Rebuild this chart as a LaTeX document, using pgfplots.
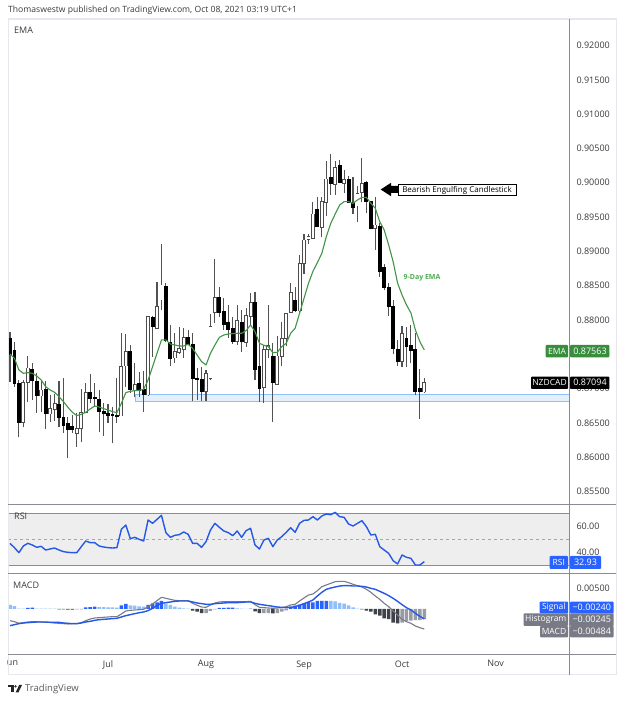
\documentclass[border=0pt]{standalone}
\usepackage{fontspec}
\setmainfont{Open Sans}
\usepackage{pgfplots}
\usepackage{pgfplotstable}
\pgfplotsset{compat=1.18}

\definecolor{tvblue}{HTML}{2962FF}
\definecolor{lblue}{HTML}{90BFF9}
\definecolor{zone}{HTML}{E3F0FC}
\definecolor{tvgrey}{HTML}{787B86}
\definecolor{dgrey}{HTML}{3F424B}
\definecolor{lgrey}{HTML}{9A9CA5}
\definecolor{emagreen}{HTML}{4CAF50}
\definecolor{taggreen}{HTML}{388E3C}
\definecolor{txt}{HTML}{3A3A3A}
\definecolor{frame}{HTML}{E6E8EE}
\definecolor{sep}{HTML}{8A8C94}

% daily candles, i = 0 is 1 Jun 2021
\pgfplotstableread{
i o h l c
0 0.87733 0.87820 0.87101 0.87490
1 0.87553 0.87684 0.87028 0.87067
2 0.87077 0.87125 0.86290 0.86503
3 0.86503 0.87125 0.86435 0.87087
4 0.87091 0.87480 0.86810 0.87300
5 0.87286 0.87378 0.86834 0.87116
6 0.87101 0.87223 0.86649 0.86892
7 0.86892 0.87125 0.86664 0.86980
8 0.86989 0.87116 0.86411 0.86630
9 0.86630 0.86907 0.86518 0.86712
10 0.86698 0.86921 0.86533 0.86785
11 0.86766 0.87116 0.86445 0.86567
12 0.86576 0.87150 0.86348 0.86460
13 0.86494 0.86591 0.85984 0.86406
14 0.86445 0.86615 0.86348 0.86397
15 0.86343 0.86649 0.86154 0.86421
16 0.86416 0.86999 0.86217 0.86649
17 0.86649 0.87087 0.86640 0.86941
18 0.86941 0.87213 0.86785 0.86858
19 0.86873 0.87077 0.86737 0.86853
20 0.86844 0.86980 0.86363 0.86664
21 0.86674 0.86785 0.86314 0.86630
22 0.86640 0.86776 0.86503 0.86610
23 0.86625 0.86737 0.86202 0.86601
24 0.86610 0.87150 0.86503 0.86591
25 0.86601 0.87806 0.86601 0.87320
26 0.87330 0.87796 0.87028 0.87538
27 0.87538 0.87636 0.86931 0.86989
28 0.86980 0.87368 0.86882 0.87057
29 0.87077 0.87247 0.86873 0.86970
30 0.86989 0.87262 0.86654 0.86907
31 0.86907 0.88058 0.86897 0.88049
32 0.88039 0.88058 0.87466 0.87903
33 0.87879 0.88559 0.87879 0.88194
34 0.88292 0.89108 0.88146 0.88510
35 0.88486 0.88535 0.87684 0.87694
36 0.87670 0.87927 0.87330 0.87436
37 0.87446 0.87806 0.87368 0.87538
38 0.87524 0.87903 0.87504 0.87587
39 0.87572 0.87879 0.87441 0.87743
40 0.87743 0.87854 0.87636 0.87645
41 0.87645 0.87806 0.86824 0.87150
42 0.87150 0.87295 0.86834 0.87135
43 0.87140 0.87320 0.86819 0.86955
44 0.86955 0.87271 0.86824 0.87223
45 0.87150 0.88088 0.87125 0.87903
46 0.88107 0.88884 0.87951 0.88326
47 0.88326 0.88486 0.88039 0.88107
48 0.88122 0.88316 0.87854 0.87937
49 0.87961 0.88219 0.87733 0.87864
50 0.87874 0.88039 0.87650 0.87684
51 0.87684 0.88219 0.87636 0.87990
52 0.87966 0.88146 0.87538 0.87675
53 0.87675 0.88170 0.87611 0.88068
54 0.88049 0.88399 0.87927 0.88253
55 0.88253 0.88413 0.87125 0.87271
56 0.87330 0.87903 0.86800 0.87004
57 0.87019 0.87636 0.86785 0.87572
58 0.87572 0.88219 0.87441 0.87626
59 0.87475 0.87660 0.86518 0.87091
60 0.87057 0.87767 0.87053 0.87475
61 0.87466 0.87976 0.87330 0.87733
62 0.87733 0.88107 0.87621 0.88097
63 0.88112 0.88544 0.88097 0.88403
64 0.88292 0.88486 0.88122 0.88131
65 0.88131 0.88948 0.88122 0.88826
66 0.88826 0.89249 0.88671 0.89166
67 0.89176 0.89254 0.89108 0.89215
68 0.89191 0.89725 0.89181 0.89545
69 0.89613 0.89798 0.89351 0.89361
70 0.89351 0.89788 0.89205 0.89725
71 0.89715 0.90323 0.89521 0.90055
72 0.90080 0.90415 0.89822 0.89992
73 0.89978 0.90323 0.89822 0.90221
74 0.90255 0.90332 0.89992 0.90002
75 0.89992 0.90187 0.89847 0.90051
76 0.90055 0.90104 0.89711 0.89715
77 0.89715 0.90090 0.89545 0.89638
78 0.89662 0.89953 0.89434 0.89847
79 0.89856 0.90357 0.89715 0.89992
80 0.90007 0.90031 0.89555 0.89725
81 0.89725 0.89725 0.89322 0.89327
82 0.89332 0.89798 0.89021 0.89385
83 0.89370 0.89409 0.88632 0.88705
84 0.88768 0.88816 0.88437 0.88462
85 0.88485 0.88539 0.88058 0.88185
86 0.88204 0.88292 0.87504 0.87587
87 0.87577 0.87708 0.87329 0.87392
88 0.87392 0.87913 0.87311 0.87806
89 0.87733 0.87902 0.87311 0.87611
90 0.87636 0.87927 0.87369 0.87552
91 0.87573 0.87806 0.86907 0.86955
92 0.87004 0.87281 0.86557 0.86955
93 0.86947 0.87150 0.86932 0.87094
}\candles

% indicators by the same index
\pgfplotstableread{
i ema rsi sig macd
0 0.87504 46.92 -0.00403 -0.00282
1 0.87441 43.61 -0.00378 -0.00306
2 0.87271 39.80 -0.00354 -0.00346
3 0.87223 44.89 -0.00338 -0.00330
4 0.87232 46.92 -0.00330 -0.00314
5 0.87223 45.65 -0.00322 -0.00306
6 0.87184 43.87 -0.00314 -0.00306
7 0.87125 44.63 -0.00314 -0.00314
8 0.87028 41.83 -0.00314 -0.00322
9 0.86980 42.60 -0.00322 -0.00322
10 0.86946 43.36 -0.00322 -0.00338
11 0.86882 41.83 -0.00322 -0.00346
12 0.86810 40.56 -0.00338 -0.00354
13 0.86727 40.05 -0.00346 -0.00362
14 0.86654 39.80 -0.00354 -0.00354
15 0.86606 39.80 -0.00354 -0.00354
16 0.86625 44.38 -0.00338 -0.00330
17 0.86654 48.70 -0.00314 -0.00282
18 0.86703 47.43 -0.00298 -0.00242
19 0.86746 47.43 -0.00274 -0.00217
20 0.86732 44.89 -0.00258 -0.00209
21 0.86708 44.12 -0.00250 -0.00201
22 0.86688 43.61 -0.00242 -0.00193
23 0.86664 43.36 -0.00233 -0.00185
24 0.86649 43.61 -0.00225 -0.00185
25 0.86785 57.61 -0.00193 -0.00121
26 0.86941 60.92 -0.00161 -0.00048
27 0.86960 50.48 -0.00137 -0.00032
28 0.86970 51.50 -0.00113 -0.00024
29 0.86975 49.97 -0.00089 -0.00016
30 0.86989 48.70 -0.00072 -0.00008
31 0.87125 64.73 -0.00040 0.00056
32 0.87320 62.19 0.00016 0.00121
33 0.87514 65.24 0.00089 0.00201
34 0.87709 68.30 0.00137 0.00282
35 0.87709 55.06 0.00153 0.00258
36 0.87650 51.50 0.00169 0.00233
37 0.87636 53.03 0.00185 0.00209
38 0.87621 53.54 0.00193 0.00201
39 0.87621 55.57 0.00193 0.00201
40 0.87645 53.79 0.00193 0.00201
41 0.87587 46.92 0.00169 0.00137
42 0.87490 46.92 0.00145 0.00089
43 0.87393 43.87 0.00129 0.00048
44 0.87344 48.19 0.00113 0.00040
45 0.87514 57.10 0.00113 0.00097
46 0.87636 62.19 0.00129 0.00145
47 0.87747 59.13 0.00137 0.00169
48 0.87781 56.34 0.00145 0.00177
49 0.87796 55.06 0.00153 0.00177
50 0.87801 52.77 0.00153 0.00177
51 0.87806 56.34 0.00153 0.00177
52 0.87806 51.50 0.00161 0.00177
53 0.87845 56.59 0.00169 0.00177
54 0.87927 58.37 0.00169 0.00185
55 0.87830 45.65 0.00137 0.00105
56 0.87660 42.60 0.00113 0.00040
57 0.87631 49.47 0.00097 0.00032
58 0.87611 50.74 0.00081 0.00024
59 0.87524 44.38 0.00064 0.00016
60 0.87529 49.47 0.00048 0.00024
61 0.87611 52.01 0.00040 0.00032
62 0.87660 55.32 0.00032 0.00056
63 0.87806 58.88 0.00040 0.00097
64 0.87879 55.32 0.00056 0.00113
65 0.88097 62.19 0.00089 0.00193
66 0.88316 64.48 0.00129 0.00266
67 0.88535 64.73 0.00169 0.00338
68 0.88709 67.28 0.00217 0.00362
69 0.88836 64.73 0.00314 0.00443
70 0.88972 67.79 0.00403 0.00539
71 0.89215 69.31 0.00475 0.00580
72 0.89409 68.80 0.00507 0.00620
73 0.89545 70.58 0.00531 0.00660
74 0.89677 67.28 0.00555 0.00668
75 0.89725 66.77 0.00564 0.00668
76 0.89725 61.68 0.00564 0.00636
77 0.89701 60.15 0.00555 0.00596
78 0.89749 62.19 0.00555 0.00564
79 0.89788 64.21 0.00547 0.00531
80 0.89788 59.64 0.00531 0.00475
81 0.89701 53.28 0.00499 0.00403
82 0.89628 53.79 0.00475 0.00314
83 0.89434 44.38 0.00427 0.00233
84 0.89312 41.83 0.00378 0.00137
85 0.89093 39.29 0.00322 0.00056
86 0.88850 33.69 0.00258 -0.00048
87 0.88539 31.15 0.00185 -0.00145
88 0.88364 38.02 0.00105 -0.00250
89 0.88219 36.23 0.00032 -0.00306
90 0.88102 35.47 -0.00024 -0.00346
91 0.87854 30.38 -0.00105 -0.00411
92 0.87684 30.38 -0.00177 -0.00451
93 0.87563 32.93 -0.00240 -0.00484
}\indic

\pgfplotsset{
  pane/.style={
    scale only axis, width=561pt,
    xmin=-0.449, xmax=125.48,
    axis line style={draw=none},
    major tick length=0pt,
    xtick=\empty,
    yticklabel pos=right,
    yticklabel style={font=\fontsize{9}{10}\selectfont, text=txt, anchor=west, xshift=4pt},
    scaled y ticks=false,
    /pgf/number format/assume math mode=true,
    /pgf/number format/fixed,
    /pgf/number format/fixed zerofill,
  },
  candle/.style 2 args={mark=none, draw=#1, line width=#2, line cap=butt},
}

\begin{document}
\begin{tikzpicture}[x=1pt,y=1pt]
\path[use as bounding box, fill=white] (0,0) rectangle (624,702);

% price pane
\begin{axis}[pane, at={(8pt,197pt)}, anchor=south west, height=485pt,
    ymin=0.85303, ymax=0.92373,
    ytick={0.855,0.86,0.865,0.87,0.875,0.88,0.885,0.89,0.895,0.90,0.905,0.91,0.915,0.92},
    /pgf/number format/precision=5]
  % support zone
  \addplot[fill=zone, draw=lblue, line width=0.8pt] coordinates {(28.06,0.86812) (125.48,0.86812) (125.48,0.86917) (28.06,0.86917)} --cycle;
  % wicks
  \addplot[candle={black!68}{1.1pt}, quiver={u=0, v={\thisrow{h}-\thisrow{l}}}] table[x=i, y=l] {\candles};
  % up bodies: outline, then white inside
  \addplot[candle={black!70}{3.9pt}, quiver={u=0, v={max(\thisrow{c}-\thisrow{o}+0.00008,0)}}] table[x=i, y expr=\thisrow{o}-0.00004] {\candles};
  \addplot[candle={white}{2.1pt}, quiver={u=0, v={max(\thisrow{c}-\thisrow{o}-0.00012,0)}}] table[x=i, y expr=\thisrow{o}+0.00006] {\candles};
  % down bodies
  \addplot[candle={black}{3.9pt}, quiver={u=0, v={max(\thisrow{o}-\thisrow{c}+0.00006,0)}}] table[x=i, y expr=\thisrow{c}-0.00003] {\candles};
  % 9-day EMA
  \addplot[emagreen!85!black, line width=1.1pt, line join=round] table[x=i, y=ema] {\indic};
\end{axis}

% RSI pane
\begin{axis}[pane, at={(8pt,128.5pt)}, anchor=south west, height=68.5pt,
    ymin=23.89, ymax=76.18,
    ytick={40,60},
    /pgf/number format/precision=2]
  \addplot[fill=black!6.5, draw=none] coordinates {(-0.449,30) (125.48,30) (125.48,70) (-0.449,70)} --cycle;
  \addplot[black!45, line width=0.9pt] coordinates {(-0.449,70) (125.48,70)};
  \addplot[black!45, line width=0.9pt] coordinates {(-0.449,30) (125.48,30)};
  \addplot[black!35, line width=0.6pt, dash pattern=on 3pt off 3pt] coordinates {(-0.449,50) (125.48,50)};
  \addplot[tvblue!90!black, line width=1.4pt, line join=round] table[x=i, y=rsi] {\indic};
\end{axis}

% MACD pane
\begin{axis}[pane, at={(8pt,47pt)}, anchor=south west, height=81.5pt,
    ymin=-0.01111, ymax=0.00857,
    ytick={0.005},
    /pgf/number format/precision=5,
    xtick={0,22,44,66,88,109},
    xticklabels={\hspace*{5pt}un,Jul,Aug,Sep,Oct,Nov},
    xticklabel style={font=\fontsize{9}{10}\selectfont, text=txt, yshift=-2pt}]
  \addplot[ybar, bar width=3.5pt, fill=lblue, draw=none] coordinates {
    (0,0.00097) (1,0.00072) (2,0.00008) (3,0.00008) (6,0.00008) (7,0.00008) (8,0.00008) (9,0.00008) (10,0.00008)
    (20,0.00048) (21,0.00048) (22,0.00040) (23,0.00040) (24,0.00032)
    (27,0.00089) (28,0.00081) (29,0.00064) (30,0.00056)
    (35,0.00129) (36,0.00097) (37,0.00056) (38,0.00032) (39,0.00016) (40,0.00008)
    (51,0.00016) (52,0.00008) (53,0.00004)
    (72,0.00193) (73,0.00185) (74,0.00145) (75,0.00129) (76,0.00089) (77,0.00040) (78,0.00008)};
  \addplot[ybar, bar width=3.5pt, fill=tvblue, draw=none] coordinates {
    (4,0.00024) (5,0.00032) (17,0.00040) (18,0.00048) (19,0.00056) (25,0.00089) (26,0.00121)
    (31,0.00097) (32,0.00137) (33,0.00161) (34,0.00193)
    (47,0.00024) (48,0.00024) (49,0.00032) (50,0.00032) (54,0.00008)
    (63,0.00056) (64,0.00081) (65,0.00105) (66,0.00137) (67,0.00169) (68,0.00161) (69,0.00193) (70,0.00193) (71,0.00193)};
  \addplot[ybar, bar width=3.5pt, fill=dgrey, draw=none] coordinates {
    (11,-0.00008) (12,-0.00008) (13,-0.00016) (14,-0.00016)
    (41,-0.00040) (42,-0.00064) (43,-0.00097) (55,-0.00056) (56,-0.00097) (59,-0.00105)
    (79,-0.00008) (80,-0.00040) (81,-0.00064) (82,-0.00129) (83,-0.00161) (84,-0.00225) (85,-0.00242) (86,-0.00330) (87,-0.00346)};
  \addplot[ybar, bar width=3.5pt, fill=lgrey, draw=none] coordinates {
    (15,-0.00008) (16,-0.00008) (44,-0.00097) (45,-0.00048) (46,-0.00008) (57,-0.00097) (58,-0.00097)
    (60,-0.00097) (61,-0.00064) (62,-0.00032)
    (88,-0.00330) (89,-0.00290) (90,-0.00282) (91,-0.00266) (92,-0.00266) (93,-0.00245)};
  \addplot[tvgrey, line width=1.1pt, line join=round] table[x=i, y=macd] {\indic};
  \addplot[tvblue!90!black, line width=1.4pt, line join=round] table[x=i, y=sig] {\indic};
\end{axis}

% frame and pane separators
\draw[frame, line width=2pt] (8,683) -- (616,683);
\draw[frame, line width=1pt] (8,27) -- (616,27) -- (616,683) -- (8,683) -- cycle;
\draw[sep, line width=1pt] (8,197) -- (616,197);
\draw[sep, line width=1pt] (8,128.5) -- (616,128.5);
\draw[sep, line width=1pt] (8,47) -- (616,47);
\draw[sep, line width=1pt] (569,683) -- (569,27);

% annotation
\fill[black] (380.7,512.5) -- (391,519.2) -- (391,516) -- (398,516) -- (398,509) -- (391,509) -- (391,505.8) -- cycle;
\node[draw=black, fill=white, line width=0.7pt, inner sep=0pt, minimum width=118pt, minimum height=11.5pt, font=\fontsize{8}{9}\selectfont, text=black] at (457,512) {Bearish Engulfing Candlestick};
\node[font=\fontsize{7}{8}\selectfont\bfseries, text=emagreen] at (422,424) {9-Day EMA};

% price tags
\fill[taggreen, rounded corners=0.8pt] (545.7,344.7) rectangle (568,357);
\fill[taggreen, rounded corners=0.8pt] (570,344.7) rectangle (609.3,357);
\node[font=\fontsize{8.5}{9}\selectfont, text=white] at (557,350.8) {EMA};
\node[font=\fontsize{9}{10}\selectfont, text=white] at (590,350.8) {0.87563};
\fill[black, rounded corners=0.8pt] (531,313) rectangle (568,325.3);
\fill[black, rounded corners=0.8pt] (570,313) rectangle (609.3,325.3);
\node[font=\fontsize{8.5}{9}\selectfont, text=white] at (549.5,319.2) {NZDCAD};
\node[font=\fontsize{9}{10}\selectfont, text=white] at (590,319.2) {0.87094};
\fill[tvblue, rounded corners=0.8pt] (549.7,133) rectangle (568,146);
\fill[tvblue, rounded corners=0.8pt] (570,133) rectangle (601,146);
\node[font=\fontsize{8.5}{9}\selectfont, text=white] at (558.8,139.5) {RSI};
\node[font=\fontsize{9}{10}\selectfont, text=white] at (585.5,139.5) {32.93};
\fill[tvblue, rounded corners=0.8pt] (539.7,88.7) rectangle (568,100.3);
\fill[tvblue, rounded corners=0.8pt] (570,88.7) rectangle (613.7,100.3);
\node[font=\fontsize{8.5}{9}\selectfont, text=white] at (553.8,94.5) {Signal};
\node[font=\fontsize{9}{10}\selectfont, text=white] at (591.8,94.5) {−0.00240};
\fill[tvgrey, rounded corners=0.8pt] (523.7,76) rectangle (568,88.7);
\fill[tvgrey, rounded corners=0.8pt] (570,76) rectangle (613.7,88.7);
\node[font=\fontsize{8.5}{9}\selectfont, text=white] at (545.8,82.4) {Histogram};
\node[font=\fontsize{9}{10}\selectfont, text=white] at (591.8,82.4) {−0.00245};
\fill[tvgrey, rounded corners=0.8pt] (540,64.7) rectangle (568,76);
\fill[tvgrey, rounded corners=0.8pt] (570,64.7) rectangle (613.7,76);
\node[font=\fontsize{8.5}{9}\selectfont, text=white] at (554,70.4) {MACD};
\node[font=\fontsize{9}{10}\selectfont, text=white] at (591.8,70.4) {−0.00484};

% labels
\node[anchor=west, inner sep=0pt, font=\fontsize{8.6}{10}\selectfont, text=txt] at (8,692) {Thomaswestw published on TradingView.com, Oct 08, 2021 03:19 UTC+1};
\node[anchor=west, inner sep=0pt, font=\fontsize{9}{10}\selectfont, text=txt] at (14,672) {EMA};
\node[anchor=west, inner sep=0pt, font=\fontsize{9}{10}\selectfont, text=txt] at (14,186) {RSI};
\node[anchor=west, inner sep=0pt, font=\fontsize{9}{10}\selectfont, text=txt] at (13,117) {MACD};

% TradingView footer
\fill[black!85] (7.7,17) rectangle (14,14.5);
\fill[black!85] (11.2,17) rectangle (14,9.5);
\fill[black!85] (15.5,15.6) circle (1.3);
\fill[black!85] (19.2,17) -- (22,17) -- (18.4,9.5) -- (15.6,9.5) -- cycle;
\node[anchor=west, inner sep=0pt, font=\fontsize{9.5}{11}\selectfont, text=black!65] at (25,13) {TradingView};
\end{tikzpicture}
\end{document}
